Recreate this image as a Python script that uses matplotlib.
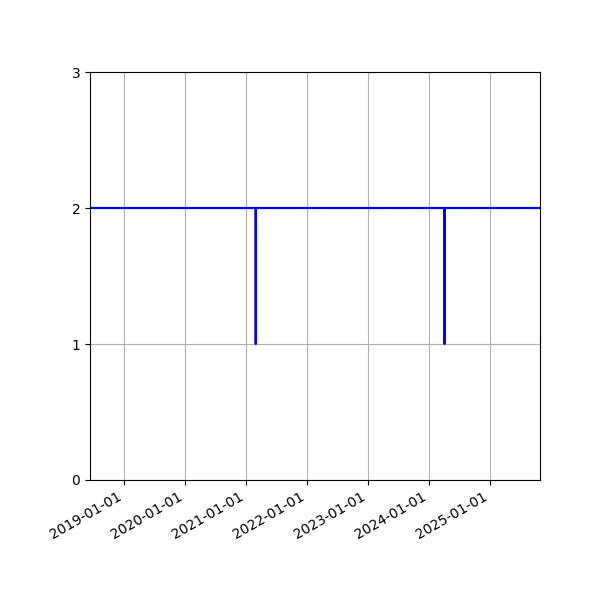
import numpy as np
import matplotlib
matplotlib.use("Agg")
import matplotlib.pyplot as plt
import matplotlib.dates as mdates

# observed series: level 2 with two one-day drops to 1
dates = np.array(["2018-06-12", "2021-02-27", "2021-02-28", "2021-03-01",
                  "2024-04-02", "2024-04-03", "2024-04-04", "2025-10-26"],
                 dtype="datetime64[D]")
values = [2, 2, 1, 2, 2, 1, 2, 2]

fig, ax = plt.subplots(figsize=(6, 6), dpi=100)
fig.subplots_adjust(left=0.15, right=0.9, top=0.88, bottom=0.2)

ax.plot(dates, values, color="blue", linewidth=1.6)
ax.set_xlim(dates[0], dates[-1])
ax.set_ylim(0, 3)
ax.set_yticks([0, 1, 2, 3])
ax.xaxis.set_major_locator(mdates.YearLocator())
ax.xaxis.set_major_formatter(mdates.DateFormatter("%Y-%m-%d"))
ax.grid(True)
plt.setp(ax.get_xticklabels(), rotation=30, ha="right")

plt.savefig("out.png", dpi=100)
